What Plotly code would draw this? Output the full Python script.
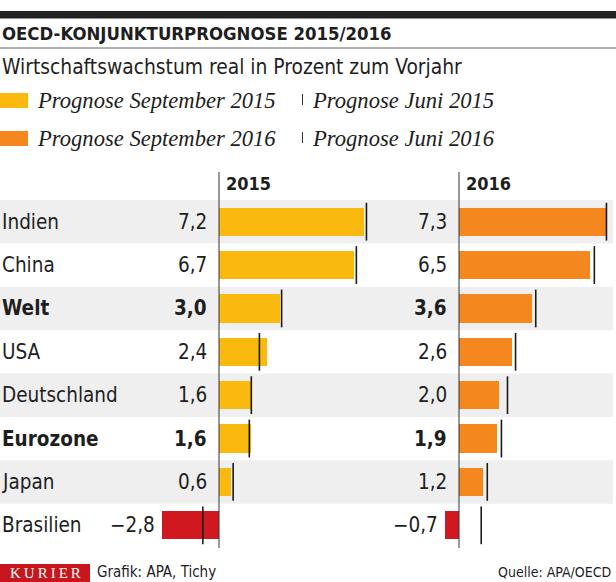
import plotly.graph_objects as go

# ---------------- data ----------------
countries = ["Indien", "China", "Welt", "USA", "Deutschland", "Eurozone", "Japan", "Brasilien"]
bold_rows = ["Welt", "Eurozone"]
sep_2015 = [7.2, 6.7, 3.0, 2.4, 1.6, 1.6, 0.6, -2.8]
jun_2015 = [7.3, 6.8, 3.1, 2.0, 1.6, 1.5, 0.7, -0.8]
sep_2016 = [7.3, 6.5, 3.6, 2.6, 2.0, 1.9, 1.2, -0.7]
jun_2016 = [7.3, 6.7, 3.8, 2.8, 2.4, 2.1, 1.4, 1.1]
panel_titles = ["2015", "2016"]

title = "OECD-KONJUNKTURPROGNOSE 2015/2016"
subtitle = "Wirtschaftswachstum real in Prozent zum Vorjahr"
legend_sep = ["Prognose September 2015", "Prognose September 2016"]
legend_jun = ["Prognose Juni 2015", "Prognose Juni 2016"]
source_left = "Grafik: APA, Tichy"
source_right = "Quelle: APA/OECD"
brand = "KURIER"

# ---------------- style ----------------
W, H = 616, 582
COND = "DejaVu Sans Condensed, Liberation Sans Narrow, sans-serif"
SERIF = "Liberation Serif, DejaVu Serif, serif"
TXT = "#1e1e1e"
YELLOW = "#f9b90e"
ORANGE = "#f4871e"
RED = "#cf1820"
BAND = "#efefef"
PXU = 20.2           # pixels per percentage point
ZERO = [219, 459]    # zero position of both panels (px)
ROW_TOP, ROW_BOT = 200, 547
LBL = 20.5

def py(p):  # pixel y -> paper y
    return 1 - p / H

def fmt(v):
    s = f"{abs(v):.1f}".replace(".", ",")
    return ("\u2212" + s) if v < 0 else s

fig = go.Figure()

axes = ["x", "x2"]
seps = [sep_2015, sep_2016]
juns = [jun_2015, jun_2016]
cols = [YELLOW, ORANGE]

for i in range(2):
    fig.add_trace(go.Bar(
        x=seps[i], y=countries, orientation="h", xaxis=axes[i], yaxis="y",
        width=0.65,
        marker=dict(color=[cols[i] if v >= 0 else RED for v in seps[i]], line=dict(width=0)),
        showlegend=False, hoverinfo="x+y",
    ))
    fig.add_trace(go.Scatter(
        x=juns[i], y=countries, mode="markers", xaxis=axes[i], yaxis="y",
        marker=dict(symbol="line-ns", size=27, color="#1a1a1a",
                    line=dict(width=1.6, color="#1a1a1a")),
        showlegend=False, hoverinfo="x+y",
    ))

shapes = []
annotations = []

# gray row bands
for k, c in enumerate(countries):
    if k % 2 == 0:
        shapes.append(dict(type="rect", xref="paper", yref="y", x0=0, x1=613 / W,
                           y0=k - 0.5, y1=k + 0.5, fillcolor=BAND, line=dict(width=0),
                           layer="below"))

# axis lines + panel titles + value labels
for i in range(2):
    shapes.append(dict(type="line", xref=axes[i], yref="paper", x0=0, x1=0,
                       y0=py(548), y1=py(172), line=dict(color="#333", width=1)))
    annotations.append(dict(xref=axes[i], yref="paper", x=0, y=py(183), xshift=5,
                            text="<b>%s</b>" % panel_titles[i], showarrow=False,
                            xanchor="left", yanchor="middle",
                            font=dict(family=COND, size=18, color=TXT)))
    for k, c in enumerate(countries):
        v = seps[i][k]
        t = fmt(v)
        if c in bold_rows:
            t = "<b>%s</b>" % t
        annotations.append(dict(xref=axes[i], yref="y", x=min(v, 0), y=c,
                                xshift=-5 if v < 0 else -10, text=t, showarrow=False,
                                xanchor="right", yanchor="middle",
                                font=dict(family=COND, size=LBL, color=TXT)))

# country labels
for c in countries:
    t = "<b>%s</b>" % c if c in bold_rows else c
    annotations.append(dict(xref="paper", yref="y", x=0, y=c, text=t, showarrow=False,
                            xanchor="left", yanchor="middle",
                            font=dict(family=COND, size=LBL, color=TXT)))

# header
shapes.append(dict(type="rect", xref="paper", yref="paper", x0=0, x1=1, y0=py(18.5), y1=py(11),
                   fillcolor="#222", line=dict(width=0)))
shapes.append(dict(type="line", xref="paper", yref="paper", x0=0, x1=1, y0=py(48), y1=py(48),
                   line=dict(color="#666", width=1)))
annotations.append(dict(xref="paper", yref="paper", x=0, y=py(33), text="<b>%s</b>" % title,
                        showarrow=False, xanchor="left", yanchor="middle",
                        font=dict(family=COND, size=18.4, color=TXT)))
annotations.append(dict(xref="paper", yref="paper", x=0, y=py(67), text=subtitle,
                        showarrow=False, xanchor="left", yanchor="middle",
                        font=dict(family=COND, size=20.8, color=TXT)))

# legend
for r, ly in enumerate([100, 138]):
    shapes.append(dict(type="rect", xref="paper", yref="paper", x0=0, x1=28 / W,
                       y0=py(ly + 8), y1=py(ly - 7), fillcolor=cols[r], line=dict(width=0)))
    annotations.append(dict(xref="paper", yref="paper", x=35 / W, y=py(ly),
                            text="<i>%s</i>" % legend_sep[r], showarrow=False,
                            xanchor="left", yanchor="middle",
                            font=dict(family=SERIF, size=22.6, color=TXT)))
    shapes.append(dict(type="line", xref="paper", yref="paper", x0=302.5 / W, x1=302.5 / W,
                       y0=py(ly + 5), y1=py(ly - 6), line=dict(color="#333", width=1)))
    annotations.append(dict(xref="paper", yref="paper", x=310 / W, y=py(ly),
                            text="<i>%s</i>" % legend_jun[r], showarrow=False,
                            xanchor="left", yanchor="middle",
                            font=dict(family=SERIF, size=22.6, color=TXT)))

# footer
shapes.append(dict(type="rect", xref="paper", yref="paper", x0=0, x1=90 / W, y0=0, y1=py(564),
                   fillcolor="#c8161d", line=dict(width=0)))
annotations.append(dict(xref="paper", yref="paper", x=45 / W, y=py(573),
                        text="\u2009".join(brand), showarrow=False,
                        xanchor="center", yanchor="middle",
                        font=dict(family=SERIF, size=15, color="white")))
annotations.append(dict(xref="paper", yref="paper", x=95 / W, y=py(572), text=source_left,
                        showarrow=False, xanchor="left", yanchor="middle",
                        font=dict(family=COND, size=15, color=TXT)))
annotations.append(dict(xref="paper", yref="paper", x=613 / W, y=py(572), text=source_right,
                        showarrow=False, xanchor="right", yanchor="middle",
                        font=dict(family=COND, size=14, color=TXT)))

fig.update_layout(
    width=W, height=H, margin=dict(l=0, r=0, t=0, b=0),
    paper_bgcolor="white", plot_bgcolor="rgba(0,0,0,0)",
    barmode="overlay", bargap=0,
    xaxis=dict(domain=[0, 1], range=[-ZERO[0] / PXU, (W - ZERO[0]) / PXU], visible=False,
               fixedrange=True),
    xaxis2=dict(domain=[0, 1], range=[-ZERO[1] / PXU, (W - ZERO[1]) / PXU], visible=False,
                overlaying="x", fixedrange=True),
    yaxis=dict(domain=[py(ROW_BOT), py(ROW_TOP)], type="category", categoryarray=countries,
               range=[len(countries) - 0.5, -0.5], visible=False, fixedrange=True),
    shapes=shapes, annotations=annotations, showlegend=False,
)

fig.write_html("out.html", config={"displayModeBar": False},
               post_script="document.body.style.margin='0';document.body.style.overflow='hidden';")
